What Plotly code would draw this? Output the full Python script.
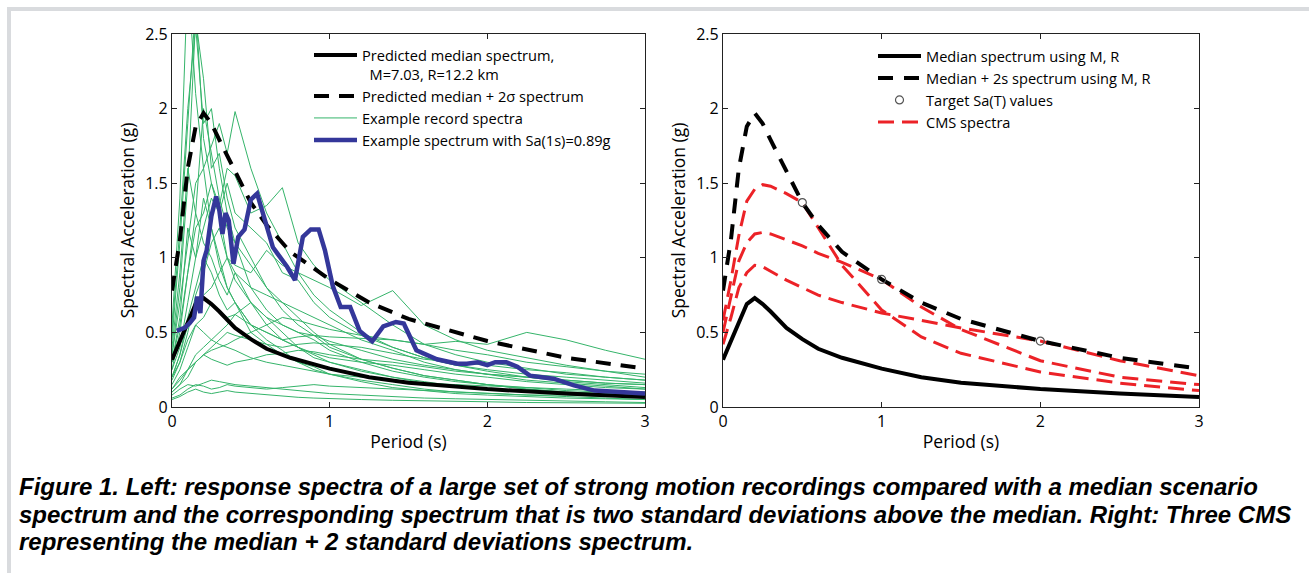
import plotly.graph_objects as go

W, H = 1309, 573

# ---------------- data ----------------
model_T = [0, 0.05, 0.1, 0.15, 0.2, 0.25, 0.3, 0.4, 0.5, 0.6, 0.75, 1.0, 1.25, 1.5, 2.0, 2.5, 3.0]
median_sa = [0.317, 0.44, 0.56, 0.69, 0.73, 0.69, 0.64, 0.53, 0.455, 0.39, 0.33, 0.257, 0.2, 0.163, 0.12, 0.09, 0.067]
median_2s_sa = [0.78, 1.12, 1.6, 1.88, 1.97, 1.9, 1.79, 1.58, 1.37, 1.22, 1.04, 0.855, 0.7, 0.59, 0.442, 0.33, 0.257]

cms_05 = [0.58, 0.85, 1.15, 1.38, 1.46, 1.49, 1.48, 1.43, 1.37, 1.2, 0.95, 0.65, 0.47, 0.36, 0.235, 0.16, 0.11]
cms_10 = [0.5, 0.75, 0.98, 1.1, 1.16, 1.17, 1.16, 1.12, 1.08, 1.03, 0.97, 0.855, 0.67, 0.52, 0.31, 0.2, 0.15]
cms_20 = [0.42, 0.6, 0.8, 0.9, 0.95, 0.94, 0.91, 0.85, 0.8, 0.75, 0.7, 0.63, 0.58, 0.53, 0.442, 0.31, 0.21]

target_T = [0.5, 1.0, 2.0]
target_sa = [1.37, 0.855, 0.442]

record_T = [0, 0.05, 0.1, 0.15, 0.2, 0.25, 0.3, 0.35, 0.4, 0.5, 0.6, 0.7, 0.8, 0.9, 1.0,
            1.2, 1.4, 1.6, 1.8, 2.0, 2.25, 2.5, 2.75, 3.0]
rec01 = [0.55, 1.4, 2.9, 2.1, 1.6, 1.2, 1.0, 0.8, 0.7, 0.55, 0.45, 0.38, 0.3, 0.27, 0.22, 0.17, 0.13, 0.11, 0.09, 0.08, 0.07, 0.06, 0.055, 0.05]
rec02 = [0.45, 1.1, 1.9, 2.7, 1.8, 1.5, 1.3, 1.0, 0.85, 0.7, 0.55, 0.45, 0.4, 0.33, 0.3, 0.24, 0.2, 0.16, 0.14, 0.12, 0.1, 0.09, 0.08, 0.07]
rec03 = [0.35, 0.7, 1.1, 1.5, 1.6, 1.75, 1.9, 1.7, 1.98, 1.6, 1.3, 1.1, 0.9, 0.75, 0.65, 0.5, 0.4, 0.33, 0.28, 0.24, 0.2, 0.17, 0.15, 0.13]
rec04 = [0.3, 0.55, 0.9, 1.2, 1.3, 1.5, 1.35, 1.6, 1.55, 1.3, 1.35, 1.47, 1.1, 0.95, 0.85, 0.7, 0.55, 0.42, 0.35, 0.3, 0.26, 0.22, 0.2, 0.18]
rec05 = [0.2, 0.35, 0.55, 0.7, 0.75, 0.8, 0.9, 1.0, 0.95, 0.9, 1.05, 0.95, 0.9, 0.85, 0.8, 0.68, 0.78, 0.55, 0.45, 0.38, 0.33, 0.28, 0.24, 0.2]
rec06 = [0.12, 0.18, 0.25, 0.3, 0.35, 0.38, 0.4, 0.42, 0.45, 0.5, 0.55, 0.6, 0.58, 0.55, 0.52, 0.48, 0.45, 0.42, 0.44, 0.42, 0.5, 0.45, 0.38, 0.32]
rec07 = [0.25, 0.5, 0.9, 1.3, 2.0, 1.7, 1.4, 1.2, 1.1, 0.95, 0.8, 0.65, 0.55, 0.48, 0.4, 0.32, 0.26, 0.21, 0.18, 0.15, 0.12, 0.1, 0.09, 0.08]
rec08 = [0.4, 0.9, 1.6, 1.3, 1.1, 1.0, 0.85, 0.75, 0.9, 0.7, 0.6, 0.5, 0.4, 0.35, 0.3, 0.25, 0.2, 0.17, 0.14, 0.12, 0.1, 0.09, 0.08, 0.07]
rec09 = [0.15, 0.25, 0.4, 0.55, 0.6, 0.7, 0.65, 0.6, 0.62, 0.55, 0.5, 0.45, 0.47, 0.48, 0.47, 0.46, 0.45, 0.42, 0.38, 0.35, 0.3, 0.27, 0.24, 0.22]
rec10 = [0.08, 0.12, 0.15, 0.14, 0.16, 0.18, 0.17, 0.16, 0.15, 0.14, 0.13, 0.12, 0.11, 0.1, 0.09, 0.08, 0.07, 0.06, 0.055, 0.05, 0.045, 0.04, 0.035, 0.03]
rec11 = [0.05, 0.07, 0.1, 0.12, 0.1, 0.09, 0.1, 0.11, 0.1, 0.09, 0.08, 0.07, 0.065, 0.06, 0.055, 0.05, 0.045, 0.04, 0.04, 0.035, 0.03, 0.03, 0.025, 0.025]
rec12 = [0.2, 0.35, 0.6, 0.8, 1.0, 0.9, 0.75, 0.65, 0.7, 0.55, 0.5, 0.45, 0.4, 0.36, 0.33, 0.3, 0.28, 0.25, 0.22, 0.2, 0.17, 0.15, 0.13, 0.12]
rec13 = [0.3, 0.6, 1.2, 1.0, 1.4, 1.2, 0.95, 0.8, 0.7, 0.5, 0.42, 0.35, 0.3, 0.25, 0.22, 0.18, 0.15, 0.12, 0.1, 0.09, 0.08, 0.07, 0.06, 0.05]
rec14 = [0.1, 0.15, 0.2, 0.3, 0.35, 0.4, 0.45, 0.5, 0.48, 0.45, 0.42, 0.4, 0.42, 0.43, 0.42, 0.4, 0.36, 0.32, 0.3, 0.28, 0.25, 0.23, 0.2, 0.18]
rec15 = [0.18, 0.3, 0.5, 0.75, 0.9, 1.1, 1.2, 1.0, 0.9, 0.8, 0.75, 0.7, 0.65, 0.6, 0.55, 0.45, 0.38, 0.3, 0.25, 0.22, 0.18, 0.16, 0.14, 0.12]
rec16 = [0.35, 0.8, 1.5, 2.6, 2.2, 1.6, 1.7, 1.4, 1.2, 1.0, 0.8, 0.7, 0.6, 0.5, 0.42, 0.32, 0.26, 0.21, 0.18, 0.15, 0.13, 0.11, 0.1, 0.09]
rec17 = [0.12, 0.2, 0.25, 0.3, 0.35, 0.32, 0.3, 0.28, 0.3, 0.32, 0.35, 0.36, 0.38, 0.37, 0.35, 0.32, 0.3, 0.27, 0.24, 0.22, 0.2, 0.18, 0.16, 0.15]
rec18 = [0.06, 0.08, 0.12, 0.15, 0.14, 0.12, 0.13, 0.15, 0.14, 0.13, 0.12, 0.13, 0.14, 0.15, 0.14, 0.13, 0.12, 0.11, 0.1, 0.09, 0.08, 0.08, 0.07, 0.07]
rec19 = [0.25, 0.4, 0.7, 1.0, 1.2, 1.4, 1.3, 1.5, 1.3, 1.2, 1.1, 0.9, 0.85, 0.7, 0.6, 0.48, 0.4, 0.33, 0.28, 0.25, 0.22, 0.2, 0.18, 0.16]
rec20 = [0.1, 0.15, 0.25, 0.35, 0.4, 0.45, 0.5, 0.55, 0.62, 0.7, 0.6, 0.55, 0.5, 0.48, 0.44, 0.38, 0.32, 0.28, 0.25, 0.22, 0.2, 0.18, 0.16, 0.15]
rec21 = [0.2, 0.3, 0.45, 0.55, 0.5, 0.45, 0.42, 0.4, 0.38, 0.33, 0.3, 0.28, 0.26, 0.24, 0.22, 0.2, 0.18, 0.16, 0.15, 0.14, 0.13, 0.12, 0.11, 0.1]
rec22 = [0.5, 1.2, 2.0, 2.55, 1.9, 2.0, 1.6, 1.3, 1.1, 0.8, 0.65, 0.55, 0.5, 0.45, 0.38, 0.3, 0.24, 0.2, 0.17, 0.15, 0.12, 0.1, 0.09, 0.08]
records = [rec01, rec02, rec03, rec04, rec05, rec06, rec07, rec08, rec09, rec10, rec11,
           rec12, rec13, rec14, rec15, rec16, rec17, rec18, rec19, rec20, rec21, rec22]

example_T = [0.03, 0.08, 0.11, 0.14, 0.16, 0.18, 0.2, 0.22, 0.25, 0.28, 0.3, 0.32, 0.34, 0.36,
             0.39, 0.42, 0.46, 0.5, 0.54, 0.58, 0.64, 0.73, 0.78, 0.83, 0.88, 0.93, 0.97, 1.02,
             1.07, 1.13, 1.19, 1.27, 1.34, 1.42, 1.47, 1.55, 1.68, 1.81, 1.87, 1.94, 2.0, 2.05,
             2.12, 2.19, 2.27, 2.42, 2.55, 2.68, 2.8, 3.0]
example_sa = [0.51, 0.53, 0.56, 0.6, 0.74, 0.63, 0.98, 1.05, 1.28, 1.41, 1.32, 1.16, 1.3, 1.25,
              0.96, 1.14, 1.19, 1.39, 1.43, 1.28, 1.07, 0.94, 0.85, 1.14, 1.19, 1.19, 1.05, 0.81,
              0.67, 0.67, 0.51, 0.44, 0.54, 0.57, 0.56, 0.38, 0.32, 0.29, 0.29, 0.3, 0.28, 0.3,
              0.3, 0.27, 0.21, 0.19, 0.145, 0.11, 0.1, 0.09]

caption_lines = [
    "Figure 1. Left: response spectra of a large set of strong motion recordings compared with a median scenario",
    "spectrum and the corresponding spectrum that is two standard deviations above the median. Right: Three CMS",
    "representing the median + 2 standard deviations spectrum.",
]

# ---------------- styles ----------------
FONT = "Open Sans"
GREEN = "#35b46a"
BLUE = "#34379a"
RED = "#ec2227"

fig = go.Figure()

# left panel
for i, rec in enumerate(records):
    fig.add_trace(go.Scatter(x=record_T, y=rec, mode="lines", xaxis="x", yaxis="y",
                             line=dict(color=GREEN, width=1),
                             name="Example record spectra", legend="legend",
                             showlegend=(i == 0), legendrank=3))
fig.add_trace(go.Scatter(x=model_T, y=median_sa, mode="lines", xaxis="x", yaxis="y",
                         line=dict(color="black", width=4),
                         name="Predicted median spectrum,<br>  M=7.03, R=12.2 km",
                         legend="legend", legendrank=1))
fig.add_trace(go.Scatter(x=model_T, y=median_2s_sa, mode="lines", xaxis="x", yaxis="y",
                         line=dict(color="black", width=4, dash="15px,10px"),
                         name="Predicted median + 2σ spectrum", legend="legend", legendrank=2))
fig.add_trace(go.Scatter(x=example_T, y=example_sa, mode="lines", xaxis="x", yaxis="y",
                         line=dict(color=BLUE, width=4.5),
                         name="Example spectrum with Sa(1s)=0.89g", legend="legend", legendrank=4))

# right panel
for i, cms in enumerate([cms_05, cms_10, cms_20]):
    fig.add_trace(go.Scatter(x=model_T, y=cms, mode="lines", xaxis="x2", yaxis="y2",
                             line=dict(color=RED, width=3, dash="16px,8px"),
                             name="CMS spectra", legend="legend2",
                             showlegend=(i == 0), legendrank=4))
fig.add_trace(go.Scatter(x=model_T, y=median_sa, mode="lines", xaxis="x2", yaxis="y2",
                         line=dict(color="black", width=4),
                         name="Median spectrum using M, R", legend="legend2", legendrank=1))
fig.add_trace(go.Scatter(x=model_T, y=median_2s_sa, mode="lines", xaxis="x2", yaxis="y2",
                         line=dict(color="black", width=4, dash="15px,11px"),
                         name="Median + 2s spectrum using M, R", legend="legend2", legendrank=2))
fig.add_trace(go.Scatter(x=target_T, y=target_sa, mode="markers", xaxis="x2", yaxis="y2",
                         marker=dict(symbol="circle-open", size=8, color="#555555",
                                     line=dict(width=1.2, color="#555555")),
                         name="Target Sa(T) values", legend="legend2", legendrank=3))

# ---------------- layout ----------------
def px_x(p):
    return p / W

def px_y(p):
    return 1 - p / H

ydom = [px_y(407), px_y(34)]
axis_common = dict(showline=True, linecolor="#222222", linewidth=1.2, mirror="ticks",
                   ticks="inside", ticklen=5, tickcolor="#222222", tickwidth=1,
                   showgrid=False, zeroline=False, automargin=False,
                   tickfont=dict(family=FONT, size=16, color="black"))
title_font = dict(family=FONT, size=17.5, color="black")
legend_font = dict(family=FONT, size=14.6, color="black")

fig.update_layout(
    width=W, height=H, autosize=False,
    margin=dict(l=0, r=0, t=0, b=0, pad=0),
    paper_bgcolor="white", plot_bgcolor="white",
    font=dict(family=FONT, color="black"),
    xaxis=dict(domain=[px_x(172), px_x(645)], range=[0, 3], tickvals=[0, 1, 2, 3],
               anchor="y", title=dict(text="Period (s)", font=title_font, standoff=4),
               **axis_common),
    yaxis=dict(domain=ydom, range=[0, 2.5], tickvals=[0, 0.5, 1, 1.5, 2, 2.5],
               ticktext=["0", "0.5", "1", "1.5", "2", "2.5"], anchor="x",
               title=dict(text="Spectral Acceleration (g)", font=title_font, standoff=6),
               **axis_common),
    xaxis2=dict(domain=[px_x(723), px_x(1199)], range=[0, 3], tickvals=[0, 1, 2, 3],
                anchor="y2", title=dict(text="Period (s)", font=title_font, standoff=4),
                **axis_common),
    yaxis2=dict(domain=ydom, range=[0, 2.5], tickvals=[0, 0.5, 1, 1.5, 2, 2.5],
                ticktext=["0", "0.5", "1", "1.5", "2", "2.5"], anchor="x2",
                title=dict(text="Spectral Acceleration (g)", font=title_font, standoff=6),
                **axis_common),
    legend=dict(x=px_x(309), y=px_y(39), xanchor="left", yanchor="top",
                bgcolor="rgba(0,0,0,0)", borderwidth=0, itemwidth=43, valign="top",
                tracegroupgap=0, font=legend_font,
                itemclick=False, itemdoubleclick=False),
    legend2=dict(x=px_x(873), y=px_y(40), xanchor="left", yanchor="top",
                 bgcolor="rgba(0,0,0,0)", borderwidth=0, itemwidth=43, valign="top",
                 tracegroupgap=0, font=legend_font,
                 itemclick=False, itemdoubleclick=False),
    showlegend=True,
)

# light grey frame (top and left edges)
fig.add_shape(type="line", xref="paper", yref="paper", x0=px_x(7), x1=1, y0=px_y(9), y1=px_y(9),
              line=dict(color="#d9dbde", width=4), layer="below")
fig.add_shape(type="line", xref="paper", yref="paper", x0=px_x(9), x1=px_x(9), y0=0, y1=px_y(7),
              line=dict(color="#d9dbde", width=4), layer="below")

# caption
for txt, yc in zip(caption_lines, [486, 514, 541]):
    fig.add_annotation(text="<b><i>" + txt + "</i></b>", xref="paper", yref="paper",
                       x=px_x(18), y=px_y(yc), xanchor="left", yanchor="middle", showarrow=False,
                       borderpad=0, font=dict(family="Liberation Sans", size=24, color="black"))

fig.write_html("out.html", config={"responsive": False, "displayModeBar": False},
               post_script="document.body.style.margin='0';document.body.style.overflow='hidden';")
